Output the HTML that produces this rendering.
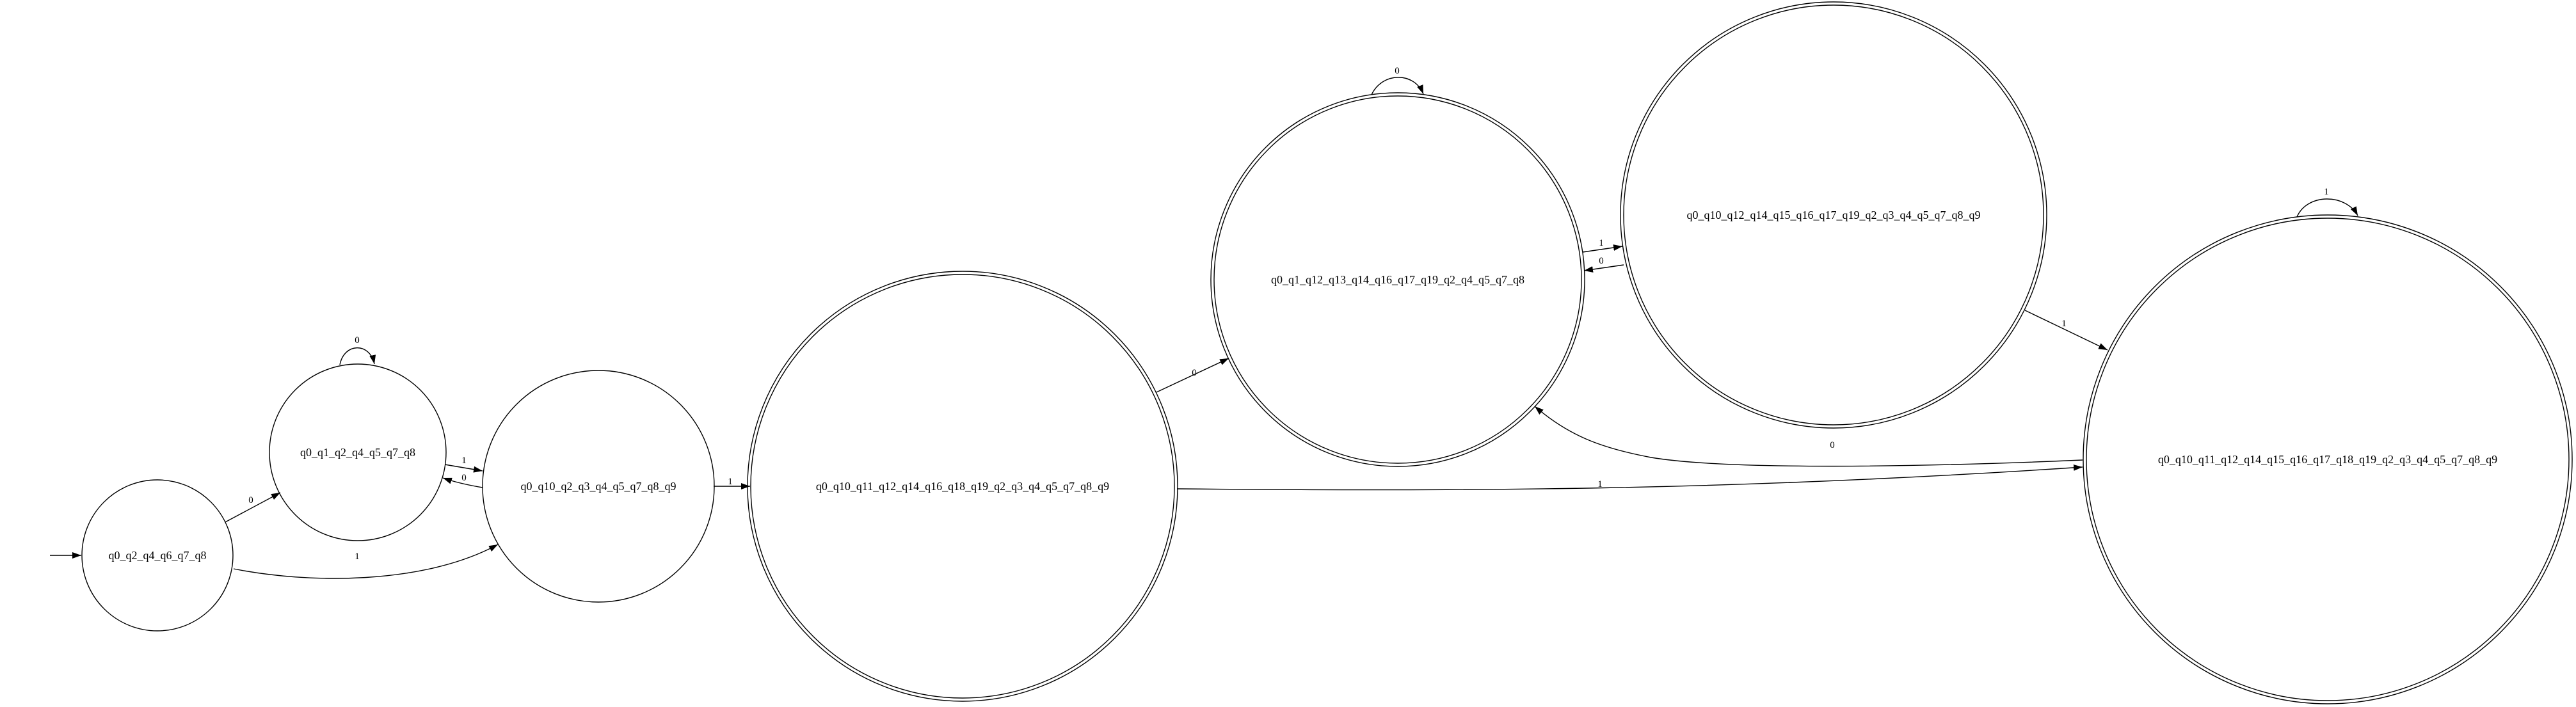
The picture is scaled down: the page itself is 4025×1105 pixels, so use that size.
<!DOCTYPE html>
<html><head><meta charset="utf-8"><style>
html,body{margin:0;padding:0;background:#fff;}
svg{display:block;}
text{font-family:"Liberation Serif",serif;fill:#000;}
.n{font-size:18px;}
.e{font-size:15px;}
</style></head><body>
<svg width="4025" height="1105" viewBox="0 0 4025 1105" xmlns="http://www.w3.org/2000/svg">
<defs>
<marker id="ah" viewBox="0 0 14 10" refX="14" refY="5" markerWidth="14" markerHeight="10" markerUnits="userSpaceOnUse" orient="auto">
<path d="M0,0 L14,5 L0,10 z" fill="#000"/>
</marker>
</defs>
<g fill="none" stroke="#000" stroke-width="1.4">
<circle cx="246" cy="868" r="118"/>
<circle cx="559" cy="707" r="138"/>
<circle cx="935" cy="760" r="181"/>
<g><circle cx="1504" cy="760" r="336"/><circle cx="1504" cy="760" r="331"/></g>
<g><circle cx="2184" cy="437" r="292"/><circle cx="2184" cy="437" r="287"/></g>
<g><circle cx="2865" cy="336" r="333"/><circle cx="2865" cy="336" r="328"/></g>
<g><circle cx="3637" cy="718" r="382"/><circle cx="3637" cy="718" r="377"/></g>

<path d="M78,868 L127,868" marker-end="url(#ah)"/>
<path d="M352,816 L438,770" marker-end="url(#ah)"/>
<path d="M365,889 C480,912 660,915 778,851" marker-end="url(#ah)"/>
<path d="M695,726 L754,736" marker-end="url(#ah)"/>
<path d="M754,762 C730,758 712,754 692,747" marker-end="url(#ah)"/>
<path d="M531,570 C538,535 578,535 585,569" marker-end="url(#ah)"/>
<path d="M1115,760 L1172,760" marker-end="url(#ah)"/>
<path d="M1807,613 L1920,560" marker-end="url(#ah)"/>
<path d="M1839,764 C2300,768 2700,767 3254,730" marker-end="url(#ah)"/>
<path d="M3254,719 C3000,730 2700,735 2580,715 C2500,700 2450,680 2398,635" marker-end="url(#ah)"/>
<path d="M2143,148 C2160,112 2210,112 2224,147" marker-end="url(#ah)"/>
<path d="M2473,394 L2535,385" marker-end="url(#ah)"/>
<path d="M2537,414 L2475,423" marker-end="url(#ah)"/>
<path d="M3164,485 L3293,547" marker-end="url(#ah)"/>
<path d="M3589,339 C3605,302 3665,302 3684,337" marker-end="url(#ah)"/>
</g>
<g text-anchor="middle">
<text class="n" x="246" y="874">q0_q2_q4_q6_q7_q8</text>
<text class="n" x="559" y="713">q0_q1_q2_q4_q5_q7_q8</text>
<text class="n" x="935" y="766">q0_q10_q2_q3_q4_q5_q7_q8_q9</text>
<text class="n" x="1504" y="766">q0_q10_q11_q12_q14_q16_q18_q19_q2_q3_q4_q5_q7_q8_q9</text>
<text class="n" x="2184" y="443">q0_q1_q12_q13_q14_q16_q17_q19_q2_q4_q5_q7_q8</text>
<text class="n" x="2865" y="342">q0_q10_q12_q14_q15_q16_q17_q19_q2_q3_q4_q5_q7_q8_q9</text>
<text class="n" x="3637" y="724">q0_q10_q11_q12_q14_q15_q16_q17_q18_q19_q2_q3_q4_q5_q7_q8_q9</text>
<text class="e" x="392" y="786">0</text>
<text class="e" x="558" y="874">1</text>
<text class="e" x="725" y="724">1</text>
<text class="e" x="725" y="751">0</text>
<text class="e" x="558" y="536">0</text>
<text class="e" x="1141" y="757">1</text>
<text class="e" x="1866" y="587">0</text>
<text class="e" x="2500" y="761">1</text>
<text class="e" x="2863" y="700">0</text>
<text class="e" x="2183" y="115">0</text>
<text class="e" x="2502" y="384">1</text>
<text class="e" x="2502" y="412">0</text>
<text class="e" x="3225" y="510">1</text>
<text class="e" x="3635" y="304">1</text>
</g>
</svg>
</body></html>
